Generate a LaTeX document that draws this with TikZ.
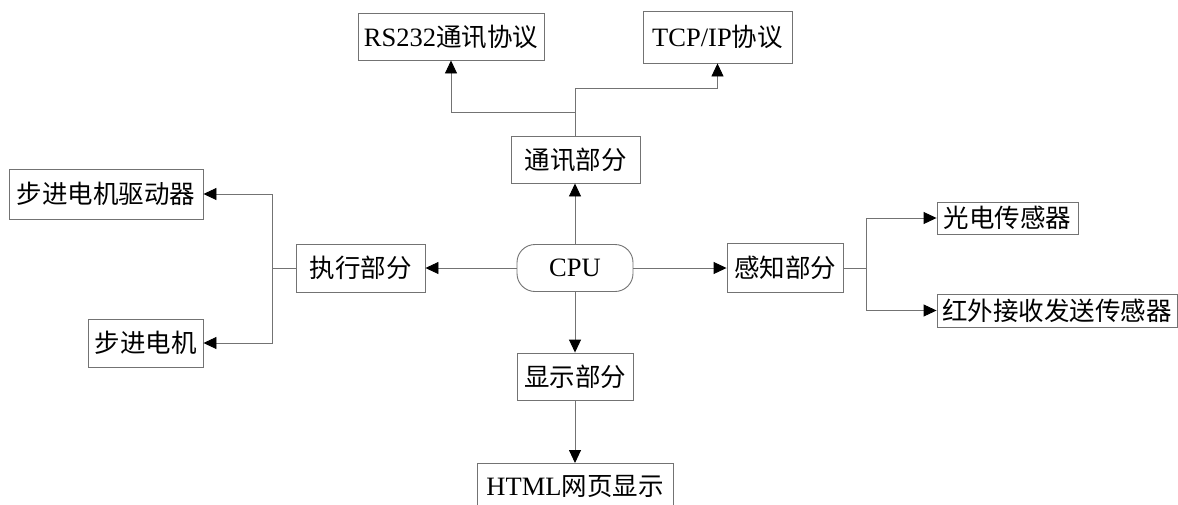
\documentclass[tikz,border=0pt]{standalone}
\usepackage{fontspec}
\setmainfont{Liberation Serif}
\newfontfamily\cjk{Noto Sans CJK SC}
\usetikzlibrary{arrows.meta}
\begin{document}
\begin{tikzpicture}[x=1pt,y=-1pt,
  box/.style={draw=gray!90!black, line width=0.9pt, fill=white, inner sep=0pt,
    font=\fontsize{26.5}{26.5}\selectfont},
  zh/.style={font=\cjk\fontsize{25.5}{25.5}\selectfont},
  link/.style={draw=gray!90!black, line width=0.9pt},
  arr/.style={link, -{Triangle[length=13pt,width=12pt,color=black]}}]
\useasboundingbox[fill=white] (0,0) rectangle (1178,504);
% blocks
\node[box, minimum width=186, minimum height=47] (rs) at (451,36.5) {RS232{\cjk\fontsize{25.5}{25.5}\selectfont 通讯协议}};
\node[box, minimum width=149, minimum height=52] (tcp) at (717.5,37) {TCP/IP{\cjk\fontsize{25.5}{25.5}\selectfont 协议}};
\node[box, zh, minimum width=129, minimum height=47] (comm) at (575.5,159.5) {通讯部分};
\node[box, minimum width=116, minimum height=47, rounded corners=18pt] (cpu) at (575,268) {CPU};
\node[box, zh, minimum width=129, minimum height=48] (exec) at (360.5,268) {执行部分};
\node[box, zh, minimum width=194, minimum height=50] (drv) at (106,194) {步进电机驱动器};
\node[box, zh, minimum width=115, minimum height=48] (motor) at (145.5,343) {步进电机};
\node[box, zh, minimum width=116, minimum height=49] (sense) at (785,268) {感知部分};
\node[box, zh, minimum width=141, minimum height=32] (photo) at (1007.5,218) {光电传感器};
\node[box, zh, minimum width=240, minimum height=33] (ir) at (1057,310.5) {红外接收发送传感器};
\node[box, zh, minimum width=116, minimum height=47] (disp) at (575,376.5) {显示部分};
\node[box, minimum width=196, minimum height=46, anchor=north] (html) at (575,463) {HTML{\cjk\fontsize{25.5}{25.5}\selectfont 网页显示}};
% junction points
\coordinate (jt1) at (575.5,112);
\coordinate (jt2) at (575.5,88);
\coordinate (jl) at (272,268);
\coordinate (jr) at (866,268);
% connectors
\draw[arr] (cpu.north) -- (cpu.north |- comm.south);
\draw[link] (comm.north) -- (jt2);
\draw[arr] (jt2) -| (tcp.south);
\draw[arr] (jt1) -| (rs.south);
\draw[arr] (cpu.west) -- (exec.east);
\draw[link] (exec.west) -- (jl);
\draw[arr] (jl) |- (drv.east);
\draw[arr] (jl) |- (motor.east);
\draw[arr] (cpu.east) -- (sense.west);
\draw[link] (sense.east) -- (jr);
\draw[arr] (jr) |- (photo.west);
\draw[arr] (jr) |- (ir.west);
\draw[arr] (cpu.south) -- (disp.north);
\draw[arr] (disp.south) -- (html.north);
\end{tikzpicture}
\end{document}
